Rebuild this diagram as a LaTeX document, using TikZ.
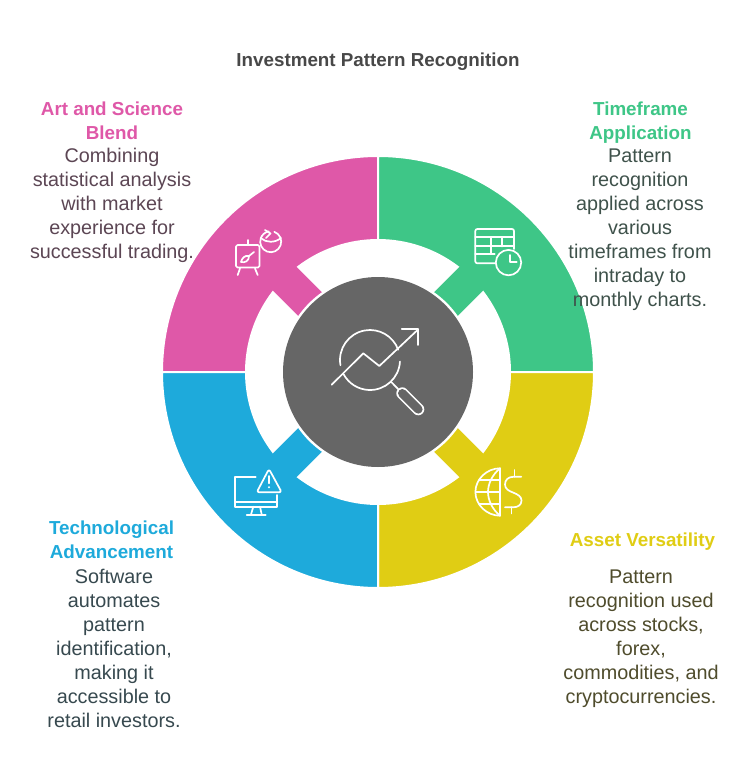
\documentclass[tikz,border=0pt]{standalone}
\usepackage{fontspec}
\setmainfont{Liberation Sans}
\definecolor{cpink}{HTML}{DF58A8}
\definecolor{cgreen}{HTML}{3EC687}
\definecolor{cyellow}{HTML}{E0CD14}
\definecolor{cblue}{HTML}{1EAADB}
\definecolor{chub}{HTML}{666666}
\definecolor{ctitle}{HTML}{484848}
\definecolor{tpink}{HTML}{5C4654}
\definecolor{tgreen}{HTML}{3F524B}
\definecolor{tyellow}{HTML}{4F4C2C}
\definecolor{tblue}{HTML}{37494F}
\tikzset{
  titletext/.style={font=\fontsize{18.8}{24}\selectfont\bfseries,text=ctitle,inner sep=0pt},
  headtext/.style={font=\fontsize{18.8}{24}\selectfont\bfseries,align=center,inner sep=0pt},
  bodytext/.style={font=\fontsize{19.8}{24}\selectfont,align=center,inner sep=0pt},
  icon/.style={draw=white,line width=1.7pt,line cap=round,line join=round},
  seg/.style={draw=white,line width=2pt,line join=miter},
}
\begin{document}
\begin{tikzpicture}[x=1pt,y=-1pt]
\useasboundingbox (0,0) rectangle (750,781);
\fill[white] (0,0) rectangle (750,781);
% ring
\begin{scope}[shift={(378,372)},y=1pt]
\foreach \m/\c in {135/cpink,45/cgreen,-45/cyellow,-135/cblue}{
  \path[seg,fill=\c]
    ({\m-45}:216) arc[start angle=\m-45,end angle=\m+45,radius=216pt]
    -- ({\m+45}:132) arc[start angle=\m+45,end angle=\m+7.8,radius=132pt]
    -- ({\m+10.7}:96.5) arc[start angle=\m+10.7,end angle=\m-10.7,radius=96.5pt]
    -- ({\m-7.8}:132) arc[start angle=\m-7.8,end angle=\m-45,radius=132pt]
    -- cycle;
}
\end{scope}
\node[circle,fill=chub,minimum size=190pt,inner sep=0pt] (hub) at (378,372) {};
% hub icon
\draw[icon] (370,360)+(170:30) arc[start angle=190,end angle=20,radius=30pt];
\draw[icon] (370,360)+(3:30) arc[start angle=-3,end angle=-151.6,radius=30pt];
\draw[icon] (331.7,384.7) -- (363.3,353.3) -- (379.3,366) -- (418.3,329.3);
\draw[icon] (401.7,329) -- (418.3,329) -- (418.3,345);
\draw[icon] (391,381.7) -- (399,390);
\draw[white,line width=12pt,line cap=round] (402.3,393.3) -- (418.3,409.3);
\draw[chub,line width=8.6pt,line cap=round] (402.3,393.3) -- (418.3,409.3);
% easel icon
\draw[icon,rounded corners=1.5pt] (236,245) rectangle (259.5,267.5);
\draw[icon] (247.7,240) -- (247.7,245);
\draw[icon] (240,268.5) -- (237.7,275);
\draw[icon] (255,268.5) -- (257.7,275);
\draw[icon] (254,252) -- (249,256);
\draw[icon] (249,256) .. controls (245,255) and (242,258) .. (241,262) .. controls (245,263) and (249,261) .. (249,256);
\draw[icon] (270.7,241.7)+(-70:10.5) arc[start angle=70,end angle=-260,radius=10.5pt];
\draw[icon] (260.7,238) .. controls (266,243) and (275,243) .. (281,238);
\draw[icon] (265,230) -- (270.5,233.5) -- (266,238);
% table icon
\draw[icon,rounded corners=2pt] (496,263.3) -- (475.3,263.3) -- (475.3,229) -- (514,229) -- (514,249);
\draw[icon] (475.3,237.3) -- (514,237.3);
\draw[icon] (475.3,246) -- (514,246);
\draw[icon] (475.3,254) -- (494.7,254);
\draw[icon] (491.3,237.3) -- (491.3,254);
\draw[icon] (502,237.3) -- (502,246.5);
\draw[icon] (508.5,262.6) circle[radius=12.7pt];
\draw[icon] (510,255) -- (510,262) -- (516.7,262);
% monitor icon
\draw[icon] (255.7,476.7) -- (235,476.7) -- (235,506.7) -- (277.3,506.7) -- (277.3,495);
\draw[icon] (235,501.7) -- (277.3,501.7);
\draw[icon] (253.3,506.7) -- (251,514.5);
\draw[icon] (260,506.7) -- (261.7,514.5);
\draw[icon] (246.7,515) -- (265.7,515);
\draw[icon,rounded corners=2.5pt] (269,469) -- (281.7,492.3) -- (256.7,492.3) -- cycle;
\draw[icon] (269,476) -- (269,483.3);
\fill[white] (269,487.3) circle[radius=1.1pt];
% globe icon
\draw[icon] (500,468.3) .. controls (487,468.3) and (475.4,479) .. (475.4,492) .. controls (475.4,505) and (487,515.7) .. (500,515.7) -- cycle;
\draw[icon] (500,468.3) .. controls (492,475) and (488,484) .. (488,492) .. controls (488,500) and (492,509) .. (500,515.7);
\draw[icon] (479,480) -- (500,480);
\draw[icon] (475.6,492) -- (500,492);
\draw[icon] (479,504.3) -- (500,504.3);
\draw[icon] (521.3,476.7) -- (514,476.7) .. controls (508,476.7) and (505,480) .. (505,484.5) .. controls (505,489) and (509,491) .. (513,492.5) .. controls (518,494.5) and (521.5,496.5) .. (521.5,500.5) .. controls (521.5,505) and (518,507.3) .. (513,507.3) -- (505,507.3);
\draw[icon] (514.5,470) -- (514.5,476.7);
\draw[icon] (511.5,507.3) -- (511.5,513.5);
% texts
\node[titletext] (title) at (378,62) {Investment Pattern Recognition};
\node[headtext,text=cpink] (h1) at (112,121) {Art and Science\\Blend};
\node[bodytext,text=tpink] (b1) at (112,205) {Combining\\statistical analysis\\with market\\experience for\\successful trading.};
\node[headtext,text=cgreen] (h2) at (640.5,122.5) {Timeframe\\Application};
\node[bodytext,text=tgreen] (b2) at (640,230) {Pattern\\recognition\\applied across\\various\\timeframes from\\intraday to\\monthly charts.};
\node[headtext,text=cyellow] (h3) at (642.5,542) {Asset Versatility};
\node[bodytext,text=tyellow] (b3) at (641,638.5) {Pattern\\recognition used\\across stocks,\\forex,\\commodities, and\\cryptocurrencies.};
\node[headtext,text=cblue] (h4) at (111.5,540) {Technological\\Advancement};
\node[bodytext,text=tblue] (b4) at (114,648) {Software\\automates\\pattern\\identification,\\making it\\accessible to\\retail investors.};
\end{tikzpicture}
\end{document}
